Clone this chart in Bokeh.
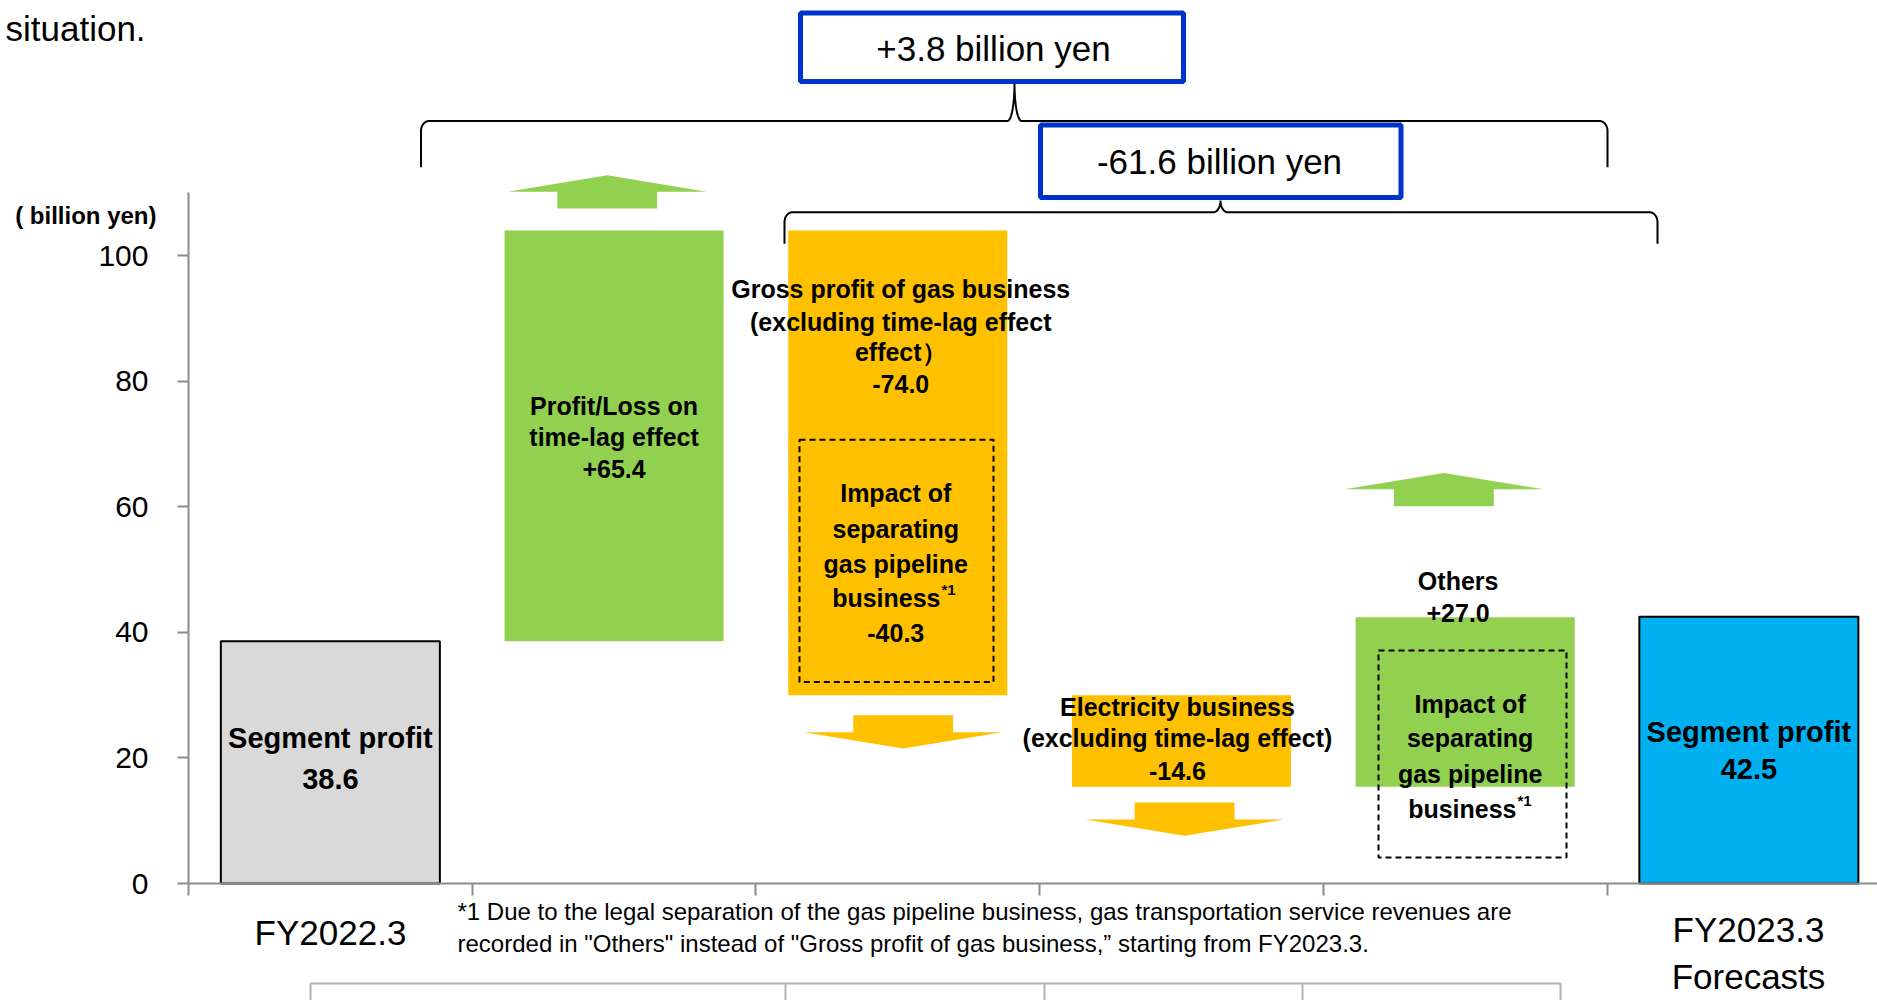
import numpy as np
from bokeh.plotting import figure
from bokeh.models import Range1d, FixedTicker, Label, PolyAnnotation, ColumnDataSource
from bokeh.embed import file_html
from bokeh.resources import INLINE

# ---------------- data ----------------
categories = ["FY2022.3", "Profit/Loss on time-lag effect",
              "Gross profit of gas business (excluding time-lag effect)",
              "Electricity business (excluding time-lag effect)", "Others",
              "FY2023.3 Forecasts"]
start_value = 38.6
changes = [65.4, -74.0, -14.6, 27.0]
end_value = 42.5
gas_pipeline_impact = -40.3
total_change = 3.8
subtotal_change = -61.6
y_ticks = [0, 20, 40, 60, 80, 100]
bar_colors = ["#D9D9D9", "#92D050", "#FFC000", "#FFC000", "#92D050", "#00B0F0"]
bar_outline = [1, 0, 0, 0, 0, 1]

# ---------------- layout constants ----------------
FIG_W, FIG_H = 1877, 1000
OFF = 0                         # page offset of the canvas
PAGE_X0, PAGE_Y0 = 188, 883     # page position of the data origin
PX_X = 283.7                    # px per category unit
PX_Y = 6.278                    # px per billion yen


def dx(px):
    return (px - PAGE_X0) / PX_X


def dy(py):
    return (PAGE_Y0 - py) / PX_Y


FONT = "Liberation Sans"
BAR_W = 0.772
TXT_DY = 0

# ---------------- waterfall geometry from data ----------------
levels = [start_value]
for c in changes:
    levels.append(levels[-1] + c)
bottoms = [0.0] + [min(levels[i], levels[i + 1]) for i in range(len(changes))] + [0.0]
tops = [start_value] + [max(levels[i], levels[i + 1]) for i in range(len(changes))] + [end_value]
xs = [i + 0.5 for i in range(len(categories))]

# the frame fills the whole canvas; axes sit at fixed locations inside it
p = figure(width=FIG_W, height=FIG_H, output_backend="svg", toolbar_location=None,
           x_range=Range1d(dx(OFF), dx(OFF + FIG_W)),
           y_range=Range1d(dy(OFF + FIG_H), dy(OFF)),
           min_border_left=0, min_border_right=0, min_border_top=0,
           min_border_bottom=0)
p.outline_line_color = None
p.grid.visible = False
p.background_fill_color = "white"
p.border_fill_color = "white"

src = ColumnDataSource(dict(x=xs, bottom=bottoms, top=tops, color=bar_colors,
                            la=bar_outline))
p.vbar(x="x", bottom="bottom", top="top", width=BAR_W, fill_color="color",
       line_color="black", line_alpha="la", line_width=2, source=src)

# ---------------- axes ----------------
ax = p.yaxis[0]
ax.fixed_location = 0
ax.ticker = FixedTicker(ticks=y_ticks)
ax.bounds = (0, 110)
ax.axis_line_color = "#8C8C8C"
ax.axis_line_width = 2
ax.major_tick_line_color = "#8C8C8C"
ax.major_tick_line_width = 2
ax.major_tick_out = 11
ax.major_tick_in = 0
ax.minor_tick_line_color = None
ax.major_label_text_font = FONT
ax.major_label_text_font_size = "30px"
ax.major_label_text_color = "black"
ax.major_label_standoff = 29

bx = p.xaxis[0]
bx.fixed_location = 0
bx.ticker = FixedTicker(ticks=list(range(len(categories) + 1)))
bx.bounds = (0, dx(OFF + FIG_W))
bx.axis_line_color = "#8C8C8C"
bx.axis_line_width = 2
bx.major_tick_line_color = "#8C8C8C"
bx.major_tick_line_width = 2
bx.major_tick_out = 12
bx.major_tick_in = 0
bx.minor_tick_line_color = None
bx.major_label_text_font_size = "1px"
bx.major_label_text_alpha = 0


def label(x, y, text, size, bold=True, align="center", baseline="middle",
          xoff=0, yoff=TXT_DY, font=FONT):
    p.add_layout(Label(x=x, y=y, text=text, text_font=font,
                       text_font_size=f"{size}px",
                       text_font_style="bold" if bold else "normal",
                       text_align=align, text_baseline=baseline,
                       x_offset=xoff, y_offset=yoff, text_color="black"))


def plabel(page_x, page_y, text, size, bold=False, align="left"):
    label(dx(page_x), dy(page_y), text, size, bold=bold, align=align)


# ---------------- arrows (relative to bars) ----------------
SHAFT_W, HEAD_W = 0.352, 0.70
SHAFT_L, HEAD_L = 2.7, 2.6


def arrow(xc, base, direction, color):
    s = direction
    yw = base + s * SHAFT_L
    yt = yw + s * HEAD_L
    ax_ = [xc - SHAFT_W / 2, xc - SHAFT_W / 2, xc - HEAD_W / 2, xc,
           xc + HEAD_W / 2, xc + SHAFT_W / 2, xc + SHAFT_W / 2]
    ay_ = [base, yw, yw, yt, yw, yw, base]
    p.patch(ax_, ay_, fill_color=color, line_color=None)


arrow(xs[1] - 0.024, tops[1] + 3.5, +1, bar_colors[1])
arrow(xs[2] + 0.019, bottoms[2] - 3.2, -1, bar_colors[2])
arrow(xs[3] + 0.011, bottoms[3] - 2.5, -1, bar_colors[3])
arrow(xs[4] - 0.075, tops[4] + 17.7, +1, bar_colors[4])

# ---------------- dashed "impact" boxes ----------------
p.quad(left=[dx(799), dx(1378)], right=[dx(993), dx(1566)],
       bottom=[bottoms[2] + 2.1, dy(857)],
       top=[bottoms[2] + 2.1 - gas_pipeline_impact - 1.7, dy(650)],
       fill_color=None, line_color="black", line_width=2, line_dash="6 4")

# ---------------- braces ----------------


def brace(xl, xr, xp, yh, yend, ypk):
    rxe, rye = 8 / PX_X, 10 / PX_Y
    rxp = 7 / PX_X
    t = np.linspace(0, np.pi / 2, 16)
    bxs = [xl] + list(xl + rxe - rxe * np.cos(t))
    bys = [yend] + list(yh - rye + rye * np.sin(t))
    bxs += list(xp - rxp + rxp * np.sin(t))
    bys += list(yh + (ypk - yh) * (1 - np.cos(t)))
    bxs += list(xp + rxp * (1 - np.cos(t)))
    bys += list(yh + (ypk - yh) * (1 - np.sin(t)))
    bxs += list(xr - rxe + rxe * np.sin(t)) + [xr]
    bys += list(yh - rye + rye * np.cos(t)) + [yend]
    p.line(bxs, bys, line_color="black", line_width=2)


brace(dx(420.5), dx(1607), dx(1014), dy(120.5), dy(166.7), dy(83.3))
brace(dx(784), dx(1657), dx(1220), dy(211.7), dy(243.3), dy(200))

# ---------------- blue summary boxes ----------------
p.quad(left=[dx(800), dx(1040)], right=[dx(1183), dx(1400.5)],
       top=[dy(12.5), dy(124.5)], bottom=[dy(81), dy(197)],
       fill_color="white", line_color="#0033CC", line_width=5)
label(dx(993), dy(47.5), f"{total_change:+.1f} billion yen", 35, bold=False)
label(dx(1219), dy(161), f"{subtotal_change:+.1f} billion yen", 35, bold=False)

# ---------------- bar texts ----------------
SEG = 29
label(xs[0], dy(737), "Segment profit", SEG)
label(xs[0], dy(778), f"{start_value:.1f}", SEG)
label(xs[5], dy(731.7), "Segment profit", SEG)
label(xs[5], dy(768.3), f"{end_value:.1f}", SEG)

FS = 25
label(xs[1], dy(405), "Profit/Loss on", FS)
label(xs[1], dy(436.7), "time-lag effect", FS)
label(xs[1], dy(468), f"{changes[0]:+.1f}", FS)

for yy, tx in zip([288, 321, 351, 383],
                  ["Gross profit of gas business", "(excluding time-lag effect",
                   "effect）", f"{changes[1]:+.1f}"]):
    label(xs[2], dy(yy), tx, FS, xoff=3)

for yy, tx in zip([492, 528, 563], ["Impact of", "separating", "gas pipeline"]):
    label(xs[2], dy(yy), tx, FS, xoff=-2)
label(dx(940), dy(597), "business", FS, align="right")
label(dx(941), dy(589), "*1", 15, align="left")
label(xs[2], dy(632), f"{gas_pipeline_impact:+.1f}", FS, xoff=-2)

for yy, tx in zip([706, 737, 770], ["Electricity business",
                                    "(excluding time-lag effect)",
                                    f"{changes[2]:+.1f}"]):
    label(xs[3], dy(yy), tx, FS, xoff=-4)

label(xs[4], dy(580), "Others", FS, xoff=-7)
label(xs[4], dy(612), f"{changes[3]:+.1f}", FS, xoff=-7)
for yy, tx in zip([703, 737, 773], ["Impact of", "separating", "gas pipeline"]):
    label(xs[4], dy(yy), tx, FS, xoff=5)
label(dx(1516), dy(808), "business", FS, align="right")
label(dx(1517), dy(800), "*1", 15, align="left")

# ---------------- texts around the axes ----------------
plabel(156, 215, "( billion yen)", 24, bold=True, align="right")
plabel(5, 28, "situation.", 35)
plabel(330, 932, categories[0], 35, align="center")
plabel(1748, 929, "FY2023.3", 35, align="center")
plabel(1748, 976, "Forecasts", 35, align="center")
plabel(457, 911, "*1 Due to the legal separation of the gas pipeline business, "
       "gas transportation service revenues are", 24)
plabel(457, 943, "recorded in \"Others\" instead of \"Gross profit of gas business,\u201d "
       "starting from FY2023.3.", 24)

# table (only its top edge is within the picture)
tx_ = [310, 310, 785, 785, 785, 1044, 1044, 1044, 1302, 1302, 1302, 1560, 1560]
ty_ = [1010, 983, 983, 1010, 983, 983, 1010, 983, 983, 1010, 983, 983, 1010]
p.add_layout(PolyAnnotation(xs=[dx(v) for v in tx_], ys=[dy(v) for v in ty_],
                            fill_alpha=0, line_color="black", line_width=2))

open("out.html", "w").write(file_html(p, INLINE))
